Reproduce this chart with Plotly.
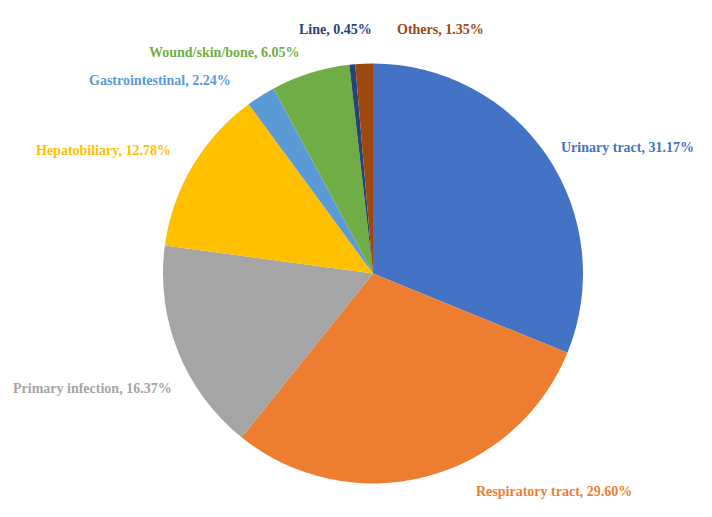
import plotly.graph_objects as go

W, H = 712, 517
OFF = 8  # the page body adds an 8px margin, pull everything back by that much

# infection sources, clockwise from 12 o'clock
labels = ["Urinary tract", "Respiratory tract", "Primary infection", "Hepatobiliary",
          "Gastrointestinal", "Wound/skin/bone", "Line", "Others"]
shares = [31.17, 29.60, 16.37, 12.78, 2.24, 6.05, 0.45, 1.35]
colors = ["#4472C4", "#ED7D31", "#A5A5A5", "#FFC000",
          "#5B9BD5", "#70AD47", "#264478", "#9E480E"]

# where each data label sits on the page (pixels, anchor) - Excel style placement
label_pos = [(559, 147, "left"), (474, 491, "left"), (174, 388, "right"),
             (173, 150, "right"), (233, 81, "right"), (302, 52, "right"),
             (335, 30, "center"), (440, 30, "center")]


def px_x(v):
    return (v - OFF) / W


def px_y(v):
    return 1 - (v - OFF) / H


fig = go.Figure()
fig.add_trace(go.Pie(
    labels=labels,
    values=shares,
    sort=False,
    direction="clockwise",
    rotation=0,
    marker=dict(colors=colors, line=dict(width=0)),
    textinfo="none",
    domain=dict(x=[px_x(163), px_x(583)], y=[px_y(484), px_y(63)]),
    showlegend=False,
    hoverinfo="label+value",
))

for lab, val, col, (px, py, anchor) in zip(labels, shares, colors, label_pos):
    fig.add_annotation(
        x=px_x(px), y=px_y(py), xref="paper", yref="paper",
        xanchor=anchor, yanchor="middle",
        text=f"<b>{lab}, {val:.2f}%</b>",
        showarrow=False,
        font=dict(family="Liberation Serif", size=14, color=col),
    )

fig.update_layout(
    width=W,
    height=H,
    margin=dict(l=0, r=0, t=0, b=0),
    paper_bgcolor="white",
    plot_bgcolor="white",
)

fig.write_html("out.html")
